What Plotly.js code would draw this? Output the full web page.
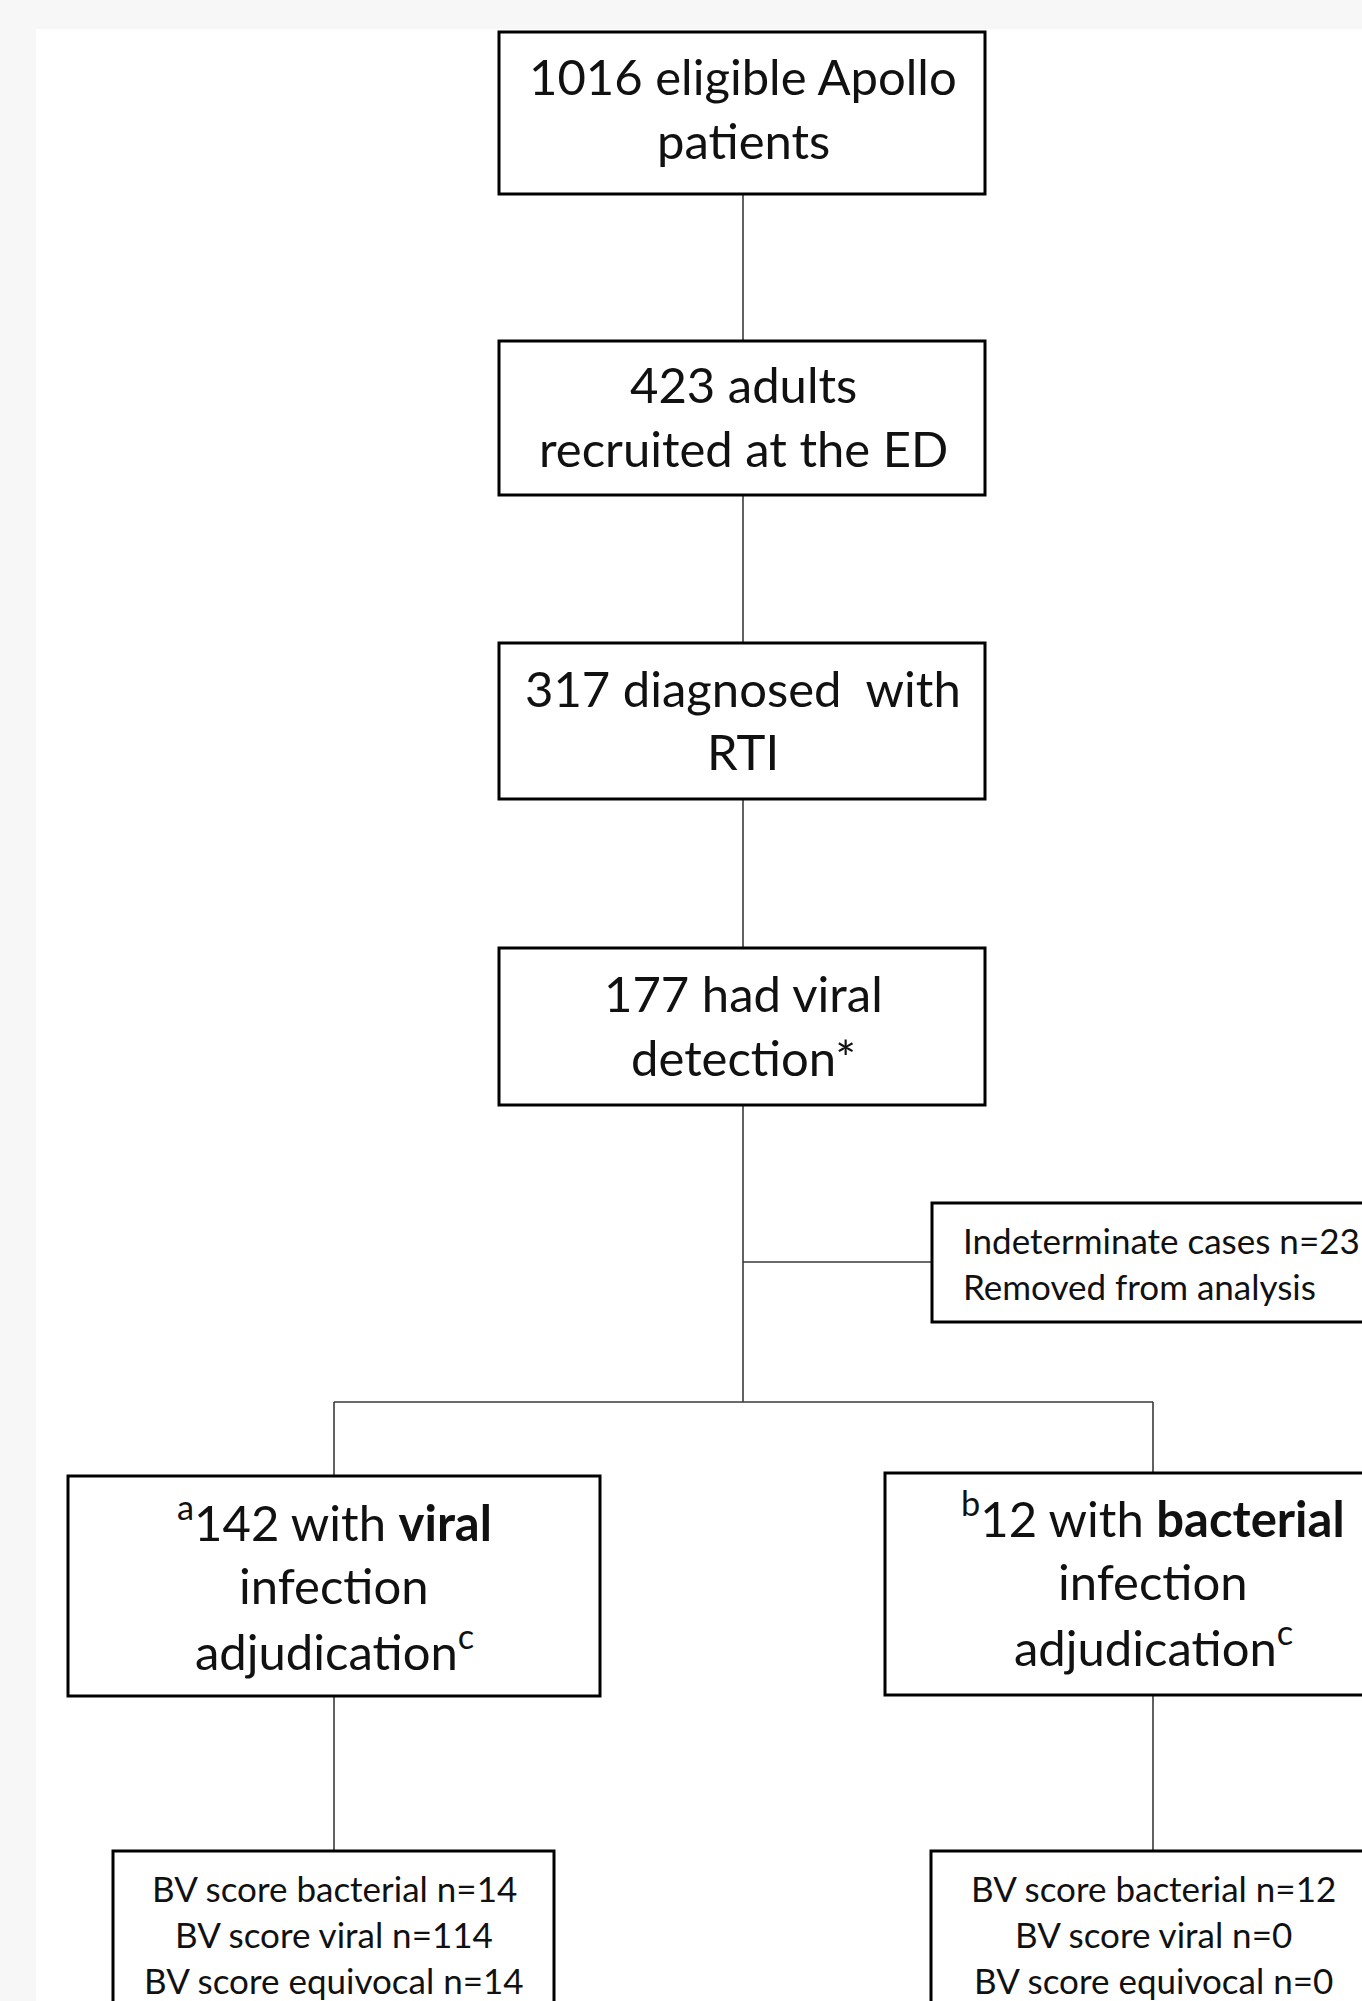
<!DOCTYPE html>
<html>
<head>
<meta charset="utf-8">
<script src="https://cdn.plot.ly/plotly-3.0.1.min.js"></script>
<style>html,body{margin:0;padding:0;background:#f7f7f7;}#chart{width:1362px;height:2001px;}</style>
</head>
<body>
<div id="chart"></div>
<script>
// ---- data: flowchart stages and counts ----
const stageLabels = [
  "1016 eligible Apollo<br>patients",
  "423 adults<br>recruited at the ED",
  "317 diagnosed&nbsp; with<br>RTI",
  "177 had viral<br>detection*"
];
const excludedLabel = "Indeterminate cases n=23<br>Removed from analysis";
const groupLabels = [
  "<sup>a</sup>142 with <b>viral</b><br>infection<br>adjudication<sup>c</sup>",
  "<sup>b</sup>12 with <b>bacterial</b><br>infection<br>adjudication<sup>c</sup>"
];
const scoreCategories = ["bacterial", "viral", "equivocal"];
const viralGroupScores = [14, 114, 14];
const bacterialGroupScores = [12, 0, 0];

// ---- layout geometry (page pixel coordinates) ----
const W = 1362, H = 2001;
const cx = 743;
const stageBoxes = [[499, 985, 32, 194], [499, 985, 341, 495], [499, 985, 643, 799], [499, 985, 948, 1105]];
const stageLineY = [[76, 140], [384, 448], [688, 751], [993, 1057]];
const exclBox = [932, 1380, 1203, 1322];
const exclLineY = [1240, 1286];
const groupBoxes = [[68, 600, 1476, 1696], [885, 1380, 1473, 1695]];
const groupCx = [334, 1153];
const groupLineY = [[1518, 1585, 1647], [1514, 1581, 1643]];
const scoreBoxes = [[113, 554, 1851, 2030], [931, 1380, 1851, 2030]];
const scoreLineY = [1888, 1934, 1980];

const FONT = "Lato, 'Open Sans', sans-serif";
const bigSize = 49, smallSize = 35;
const shapes = [];
const annotations = [];

shapes.push({type: "rect", xref: "x", yref: "y", x0: 36, x1: W + 20, y0: 29, y1: H + 20,
  fillcolor: "#ffffff", line: {width: 0}, layer: "below"});

function box(b) {
  shapes.push({type: "rect", xref: "x", yref: "y", x0: b[0], x1: b[1], y0: b[2], y1: b[3],
    fillcolor: "rgba(0,0,0,0)", line: {color: "#000000", width: 3}});
}
function seg(x0, y0, x1, y1) {
  shapes.push({type: "line", xref: "x", yref: "y", x0: x0, y0: y0, x1: x1, y1: y1,
    line: {color: "#3a3a3a", width: 1.6}});
}
function txt(x, y, t, size, anchor) {
  annotations.push({x: x, y: y, xref: "x", yref: "y", text: t, showarrow: false,
    xanchor: anchor || "center", yanchor: "middle", align: anchor === "left" ? "left" : "center",
    font: {family: FONT, size: size, color: "#111111"}});
}

// connectors
for (let i = 0; i < stageBoxes.length - 1; i++) seg(cx, stageBoxes[i][3], cx, stageBoxes[i + 1][2]);
const branchY = 1402;
seg(cx, stageBoxes[3][3], cx, branchY);
seg(cx, 1262, exclBox[0], 1262);
seg(groupCx[0], branchY, groupCx[1], branchY);
groupBoxes.forEach((b, i) => {
  seg(groupCx[i], branchY, groupCx[i], b[2]);
  seg(groupCx[i], b[3], groupCx[i], scoreBoxes[i][2]);
});

// boxes + text
stageBoxes.forEach((b, i) => {
  box(b);
  stageLabels[i].split("<br>").forEach((ln, j) => txt(cx, stageLineY[i][j], ln, bigSize));
});
box(exclBox);
excludedLabel.split("<br>").forEach((ln, j) => txt(961, exclLineY[j], ln, smallSize, "left"));
groupBoxes.forEach((b, i) => {
  box(b);
  groupLabels[i].split("<br>").forEach((ln, j) => txt(groupCx[i], groupLineY[i][j], ln, bigSize));
});
[viralGroupScores, bacterialGroupScores].forEach((vals, i) => {
  box(scoreBoxes[i]);
  scoreCategories.forEach((c, j) => txt(groupCx[i], scoreLineY[j], "BV score " + c + " n=" + vals[j], smallSize));
});

const layout = {
  width: W, height: H,
  margin: {l: 0, r: 0, t: 0, b: 0, pad: 0},
  paper_bgcolor: "#f7f7f7", plot_bgcolor: "rgba(0,0,0,0)",
  xaxis: {range: [0, W], visible: false, fixedrange: true},
  yaxis: {range: [H, 0], visible: false, fixedrange: true},
  showlegend: false,
  shapes: shapes,
  annotations: annotations
};
Plotly.newPlot("chart", [{x: [], y: [], type: "scatter", hoverinfo: "skip"}], layout, {staticPlot: true, displayModeBar: false});
</script>
</body>
</html>
